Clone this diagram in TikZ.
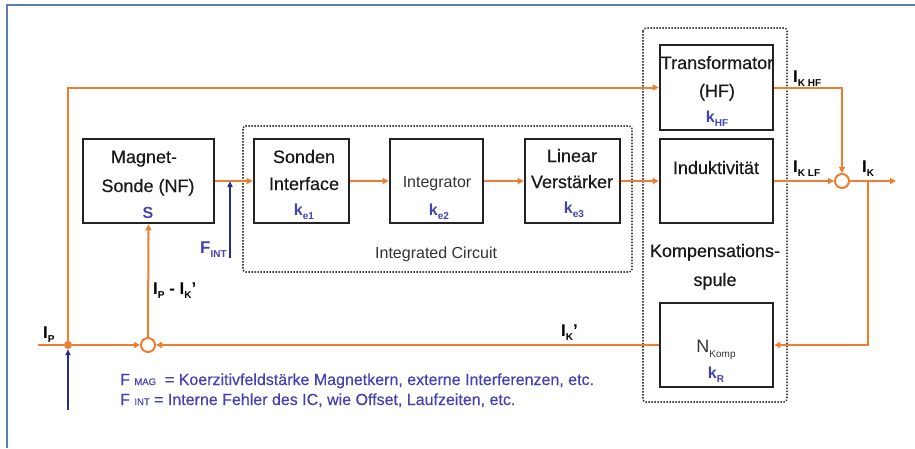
\documentclass[tikz,border=0pt]{standalone}
\usepackage{fontspec}
\setmainfont{Liberation Sans}
\newfontfamily\heavysans{Liberation Sans}[UprightFeatures={FakeBold=0.35}]
\usetikzlibrary{arrows.meta}
\definecolor{sigorange}{RGB}{238,125,49}
\definecolor{kblue}{RGB}{66,66,178}
\definecolor{navy}{RGB}{40,44,140}
\definecolor{framec}{RGB}{92,126,170}
\definecolor{boxc}{RGB}{35,35,35}
\definecolor{dotc}{RGB}{70,70,70}
\newcommand{\lowsub}[1]{\raisebox{-0.28em}{\fontsize{10}{10}\selectfont #1}}
\newcommand{\smallcap}[1]{{\fontsize{9.5}{10}\selectfont #1}}
\begin{document}
\begin{tikzpicture}[x=1pt,y=-1pt,
  blk/.style={draw=boxc, line width=2.6pt, minimum width=#1, minimum height=84pt, inner sep=0pt},
  blk/.default=95pt,
  dotbox/.style={draw=dotc, line width=1.6pt, dash pattern=on 1.5pt off 1.5pt, rounded corners=3pt},
  lbl/.style={font=\heavysans\fontsize{18}{20}\selectfont, text=black!90, anchor=base, inner sep=0pt},
  thin lbl/.style={font=\fontsize{16}{18}\selectfont, text=black!80, anchor=base, inner sep=0pt},
  kl/.style={text=kblue, font=\fontsize{16}{18}\selectfont\bfseries, anchor=base, inner sep=0pt},
  il/.style={font=\fontsize{17}{18}\selectfont\bfseries, anchor=base west, inner sep=0pt},
  sarr/.style={draw=sigorange, line width=2pt, -{Triangle[length=6pt,width=6pt]}},
  sline/.style={draw=sigorange, line width=2pt},
  narr/.style={draw=navy, line width=2pt, -{Triangle[length=6pt,width=5pt]}},
  sumnode/.style={circle, draw=sigorange, line width=2pt, fill=white, minimum size=14pt, inner sep=0pt},
  legend/.style={text=kblue, font=\heavysans\fontsize{16}{18}\selectfont, anchor=base west, inner sep=0pt}]
\useasboundingbox (0,0) rectangle (915,448);

% page frame
\draw[framec, line width=2pt] (7,448) -- (7,5) -- (915,5);

% grouping frames
\draw[dotbox] (243,126) rectangle (632,272);
\draw[dotbox] (643,28) rectangle (787,402);

% blocks
\node[blk=131pt] (sonde) at (148.5,181) {};
\node[blk=95pt]  (iface) at (301.5,181) {};
\node[blk=93pt]  (integ) at (436.5,181) {};
\node[blk=95pt]  (linv)  at (572.5,181) {};
\node[blk=113pt, minimum height=85pt] (trafo) at (716.5,87.5) {};
\node[blk=113pt] (induk) at (716.5,181) {};
\node[blk=113pt] (nkomp) at (716.5,345) {};

% block texts
\node[lbl] (tmag) at (144,163) {Magnet-};
\node[lbl] (tsnf) at (148,192) {Sonde (NF)};
\node[kl]  (ts)   at (148,218) {S};
\node[lbl] (tson) at (304,163) {Sonden};
\node[lbl] (tint) at (304,190) {Interface};
\node[kl]  (ke1)  at (304,215) {k\lowsub{e1}};
\node[thin lbl] (tintg) at (437,187) {Integrator};
\node[kl]  (ke2)  at (439,215) {k\lowsub{e2}};
\node[lbl] (tlin) at (572,162) {Linear};
\node[lbl] (tver) at (572,188) {Verstärker};
\node[kl]  (ke3)  at (574,213) {k\lowsub{e3}};
\node[lbl] (ttra) at (717,69) {Transformator};
\node[lbl] (thf)  at (717,97) {(HF)};
\node[kl]  (khf)  at (717,122) {k\lowsub{HF}};
\node[lbl] (tind) at (716,174) {Induktivität};
\node[lbl] (tkom) at (715,257) {Kompensations-};
\node[lbl] (tspu) at (715,286) {spule};
\node[thin lbl, font=\fontsize{18}{20}\selectfont] (tnk) at (716,352) {N\lowsub{Komp}};
\node[kl]  (kr)   at (716,378) {k\lowsub{R}};
\node[thin lbl, anchor=base west] (tic) at (375,258) {Integrated Circuit};

% summing points and junction
\node[sumnode] (sumk) at (842,181) {};
\node[sumnode] (sump) at (148,345) {};
\node[circle, fill=sigorange, minimum size=8pt, inner sep=0pt] (pdot) at (68,345) {};
\coordinate (pin)  at (38,345);
\coordinate (kout) at (896,181);
\coordinate (ktap) at (868,181);
\coordinate (fmag) at (68,410);
\coordinate (fint) at (230,258);

% signal paths
\draw[sarr] (sonde.east) -- (iface.west);
\draw[sarr] (iface.east) -- (integ.west);
\draw[sarr] (integ.east) -- (linv.west);
\draw[sarr] (linv.east) -- (induk.west);
\draw[sarr] (pdot) |- (trafo.west);
\draw[sarr] (trafo.east) -| (sumk.north);
\draw[sarr] (induk.east) -- (sumk.west);
\draw[sarr] (sumk.east) -- (kout);
\draw[sarr] (ktap) |- (nkomp.east);
\draw[sarr] (nkomp.west) -- (sump.east);
\draw[sline] (pin) -- (pdot);
\draw[sarr] (pdot) -- (sump.west);
\draw[sarr] (sump.north) -- (sonde.south);

% disturbance inputs
\draw[narr] (fmag) -- (pdot.south);
\draw[narr] (fint) -- (fint |- sonde.east);

% signal labels
\node[il] (lip)   at (43,338) {I\lowsub{P}};
\node[il] (lipk)  at (153,294) {I\lowsub{P} - I\lowsub{K}'};
\node[il] (likp)  at (561,336) {I\lowsub{K}'};
\node[il] (likhf) at (793,82) {I\lowsub{K HF}};
\node[il] (liklf) at (793,172) {I\lowsub{K LF}};
\node[il] (lik)   at (862,172) {I\lowsub{K}};
\node[il, text=kblue] (lfint) at (200,253) {F\lowsub{INT}};

% legend
\node[legend] (leg1) at (120,385) {F \smallcap{MAG} \ = Koerzitivfeldstärke Magnetkern, externe Interferenzen, etc.};
\node[legend] (leg2) at (120,405) {F \smallcap{INT} = Interne Fehler des IC, wie Offset, Laufzeiten, etc.};
\end{tikzpicture}
\end{document}
